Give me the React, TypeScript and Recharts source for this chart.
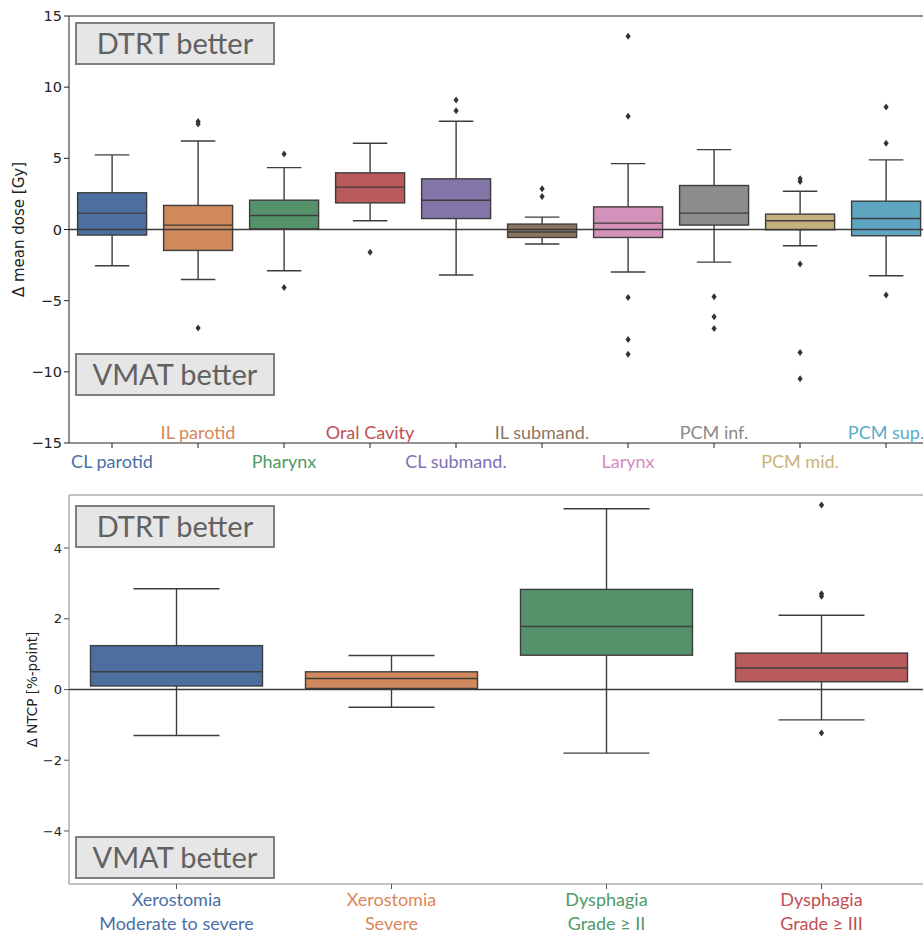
import { Bar, ComposedChart, ReferenceLine, XAxis, YAxis, Cell } from "recharts"

const organs = ["CL parotid", "IL parotid", "Pharynx", "Oral Cavity", "CL submand.", "IL submand.", "Larynx", "PCM inf.", "PCM mid.", "PCM sup."]
const organLow = [-2.55, -3.51, -2.9, 0.61, -3.2, -1.02, -2.99, -2.29, -1.14, -3.25]
const organQ1 = [-0.39, -1.47, 0.05, 1.87, 0.77, -0.56, -0.56, 0.31, -0.02, -0.44]
const organMedian = [1.15, 0.31, 0.98, 2.98, 2.06, -0.18, 0.45, 1.15, 0.61, 0.77]
const organQ3 = [2.58, 1.69, 2.06, 3.98, 3.56, 0.38, 1.59, 3.09, 1.08, 1.99]
const organHigh = [5.24, 6.22, 4.35, 6.06, 7.61, 0.87, 4.63, 5.61, 2.69, 4.89]
const organOutliers = [
  [],
  [7.58, 7.42, -6.92],
  [5.31, -4.07],
  [-1.59],
  [9.1, 8.35],
  [2.86, 2.32],
  [13.57, 7.96, -4.77, -7.72, -8.77],
  [-4.72, -6.13, -6.95],
  [3.56, 3.37, -2.43, -8.65, -10.48],
  [8.61, 6.06, -4.6],
]
const doseTicks = [-15, -10, -5, 0, 5, 10, 15]

const endpoints = ["Xerostomia|Moderate to severe", "Xerostomia|Severe", "Dysphagia|Grade ≥ II", "Dysphagia|Grade ≥ III"]
const ntcpLow = [-1.3, -0.5, -1.8, -0.86]
const ntcpQ1 = [0.1, 0.03, 0.97, 0.22]
const ntcpMedian = [0.5, 0.31, 1.78, 0.61]
const ntcpQ3 = [1.24, 0.5, 2.83, 1.03]
const ntcpHigh = [2.85, 0.96, 5.11, 2.1]
const ntcpOutliers = [[], [], [], [5.22, 2.71, 2.64, -1.23]]
const ntcpTicks = [-4, -2, 0, 2, 4]

const boxFill = ["#4c6fa0", "#d0895c", "#55926b", "#b95b5c", "#8475a8", "#8b7562", "#d492bb", "#8c8c8c", "#c5b17d", "#5ea5c2"]
const textFill = ["#4a6fa6", "#d9875a", "#4f9a68", "#c04f55", "#7e72b0", "#8f7661", "#d889c0", "#8a8a8a", "#c9b478", "#5aabc9"]

const labelFont = "Lato, 'Open Sans', sans-serif"
const axisFont = "'DejaVu Sans', sans-serif"

function buildRows(names: string[], low: number[], q1: number[], med: number[], q3: number[], high: number[], out: number[][]) {
  return names.map((name, i) => ({
    name,
    box: [q1[i], q3[i]],
    low: low[i],
    q1: q1[i],
    median: med[i],
    q3: q3[i],
    high: high[i],
    outliers: out[i],
  }))
}

const doseRows = buildRows(organs, organLow, organQ1, organMedian, organQ3, organHigh, organOutliers)
const ntcpRows = buildRows(endpoints, ntcpLow, ntcpQ1, ntcpMedian, ntcpQ3, ntcpHigh, ntcpOutliers)

const LINE = "#3d3d3d"

// draws the whole boxplot from the bar's q1..q3 rectangle
function BoxShape(props: any) {
  const { x, y, width, height, payload, fill } = props
  const d = payload
  const top = Math.min(y, y + height)
  const h = Math.abs(height)
  const ppu = h / (d.q3 - d.q1)
  const py = (v: number) => top + (d.q3 - v) * ppu
  const cx = x + width / 2
  const cap = width / 4
  return (
    <g>
      <line x1={cx} x2={cx} y1={py(d.high)} y2={top} stroke={LINE} strokeWidth={1.4} />
      <line x1={cx} x2={cx} y1={top + h} y2={py(d.low)} stroke={LINE} strokeWidth={1.4} />
      <line x1={cx - cap} x2={cx + cap} y1={py(d.high)} y2={py(d.high)} stroke={LINE} strokeWidth={1.4} />
      <line x1={cx - cap} x2={cx + cap} y1={py(d.low)} y2={py(d.low)} stroke={LINE} strokeWidth={1.4} />
      <rect x={x} y={top} width={width} height={h} fill={fill} stroke={LINE} strokeWidth={1.4} />
      <line x1={x} x2={x + width} y1={py(d.median)} y2={py(d.median)} stroke={LINE} strokeWidth={1.4} />
      {d.outliers.map((v: number, k: number) => {
        const oy = py(v)
        return <path key={k} d={`M${cx},${oy - 3.5}L${cx + 2.6},${oy}L${cx},${oy + 3.5}L${cx - 2.6},${oy}Z`} fill="#333" />
      })}
    </g>
  )
}

function OrganTick(props: any) {
  const { x, y, payload } = props
  const i = payload.index
  const below = i % 2 === 0
  return (
    <text x={x} y={below ? y + 11 : y - 18} textAnchor="middle" dominantBaseline="central" fill={textFill[i]} fontFamily={labelFont} fontSize={18}>
      {payload.value}
    </text>
  )
}

function EndpointTick(props: any) {
  const { x, y, payload } = props
  const i = payload.index
  const [a, b] = String(payload.value).split("|")
  return (
    <g>
      <text x={x} y={y + 8} textAnchor="middle" dominantBaseline="central" fill={textFill[i]} fontFamily={labelFont} fontSize={18}>{a}</text>
      <text x={x} y={y + 32} textAnchor="middle" dominantBaseline="central" fill={textFill[i]} fontFamily={labelFont} fontSize={18}>{b}</text>
    </g>
  )
}

function AxisTitle(cx: number, text: string, size: number) {
  return (props: any) => {
    const vb = props.viewBox
    const cy = vb.y + vb.height / 2
    return (
      <text x={cx} y={cy} transform={`rotate(-90 ${cx} ${cy})`} textAnchor="middle" dominantBaseline="central" fontFamily={axisFont} fontSize={size} fill="#222">
        {text}
      </text>
    )
  }
}

function Badge({ text, left, top }: { text: string; left: number; top: number }) {
  return (
    <div
      style={{
        position: "absolute",
        left,
        top,
        width: 200,
        height: 43,
        boxSizing: "border-box",
        background: "#e6e6e6",
        border: "2.5px solid #7f7f7f",
        color: "#616161",
        fontFamily: labelFont,
        fontSize: 29,
        lineHeight: "38px",
        textAlign: "center",
      }}
    >
      {text}
    </div>
  )
}

export default function App() {
  return (
    <div style={{ position: "absolute", left: 0, top: 0, width: 923, height: 935, overflow: "hidden", background: "#fff" }}>
      <div style={{ position: "absolute", left: 0, top: 0 }}>
        <ComposedChart width={935} height={475} data={doseRows} margin={{ top: 16, right: 6, bottom: 2, left: 9 }} barCategoryGap="10%">
          <XAxis dataKey="name" height={30} tick={<OrganTick />} tickSize={5} interval={0} stroke="#222" tickLine={{ stroke: "#222" }} />
          <YAxis
            width={60}
            domain={[-15, 15]}
            ticks={doseTicks}
            tickSize={5}
            stroke="#222"
            tick={{ fill: "#222", fontFamily: axisFont, fontSize: 14.5 }}
            tickFormatter={(v: number) => String(v).replace("-", "\u2212")}
            label={{ content: AxisTitle(18.5, "Δ mean dose [Gy]", 15) }}
          />
          <ReferenceLine y={15} stroke="#222" strokeWidth={1} />
          <Bar dataKey="box" shape={<BoxShape />} isAnimationActive={false}>
            {doseRows.map((_, i) => (
              <Cell key={i} fill={boxFill[i]} />
            ))}
          </Bar>
          <ReferenceLine y={0} stroke="#3a3a3a" strokeWidth={1.5} />
        </ComposedChart>
      </div>
      <div style={{ position: "absolute", left: 0, top: 480 }}>
        <ComposedChart width={935} height={455} data={ntcpRows} margin={{ top: 15, right: 6, bottom: 1, left: 9 }} barCategoryGap="10%">
          <XAxis dataKey="name" height={50} tick={<EndpointTick />} tickSize={5} interval={0} stroke="#888" tickLine={{ stroke: "#555" }} />
          <YAxis
            width={60}
            domain={[-5.5, 5.5]}
            ticks={ntcpTicks}
            tickSize={5}
            stroke="#888"
            tickLine={{ stroke: "#555" }}
            tick={{ fill: "#222", fontFamily: axisFont, fontSize: 13 }}
            tickFormatter={(v: number) => String(v).replace("-", "\u2212")}
            label={{ content: AxisTitle(31.5, "Δ NTCP [%-point]", 13.5) }}
          />
          <ReferenceLine y={5.5} stroke="#888" strokeWidth={1} />
          <Bar dataKey="box" shape={<BoxShape />} isAnimationActive={false}>
            {ntcpRows.map((_, i) => (
              <Cell key={i} fill={boxFill[i]} />
            ))}
          </Bar>
          <ReferenceLine y={0} stroke="#3a3a3a" strokeWidth={1.5} />
        </ComposedChart>
      </div>
      <Badge text="DTRT better" left={75} top={22} />
      <Badge text="VMAT better" left={75} top={353} />
      <Badge text="DTRT better" left={75} top={505} />
      <Badge text="VMAT better" left={75} top={836} />
    </div>
  )
}
